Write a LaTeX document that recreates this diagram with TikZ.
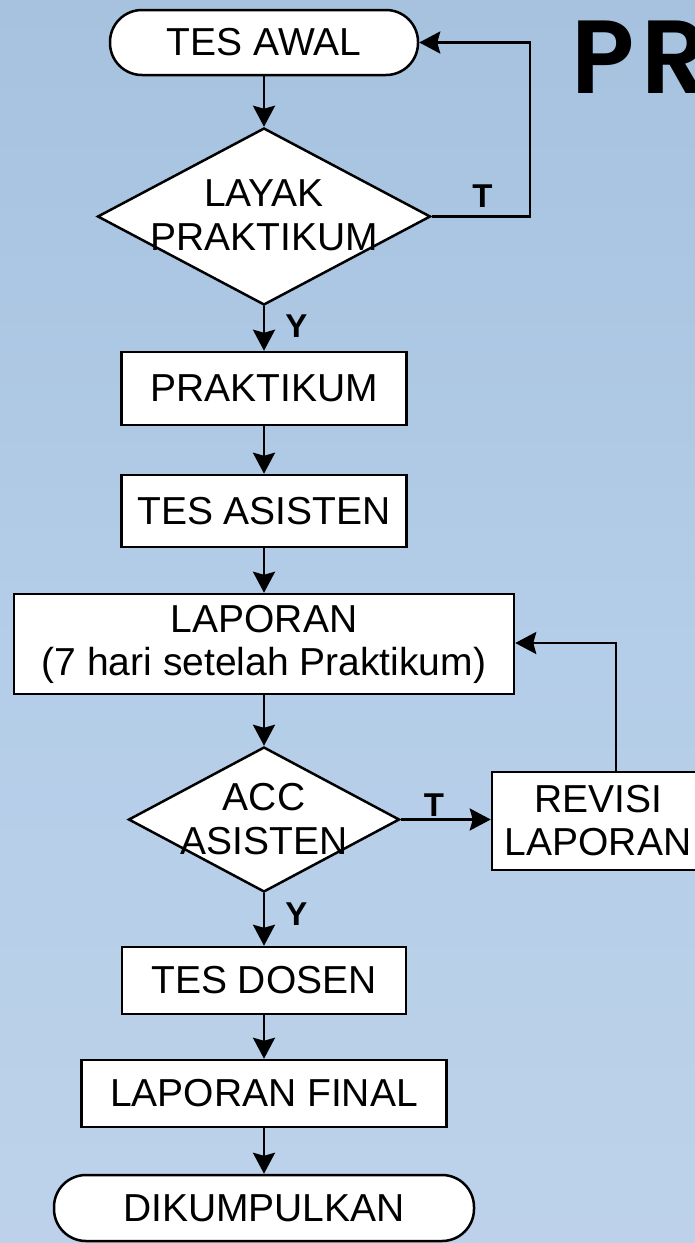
\documentclass[tikz,border=0pt]{standalone}
\usepackage{fontspec}
\setmainfont{Liberation Sans}
\newfontfamily\titlefont{Poppins SemiBold}
\usetikzlibrary{shapes.geometric,arrows.meta,calc}
\definecolor{bgtop}{HTML}{A6C2DF}
\definecolor{bgmid}{HTML}{B4CDE8}
\definecolor{bgbot}{HTML}{BDD2EA}
\tikzset{
  box/.style={draw=black, line width=2.5pt, fill=white, rectangle, inner sep=0pt,
    align=center, font=\fontsize{39}{43}\selectfont},
  term/.style={box, rounded corners=32pt},
  dia/.style={draw=black, line width=2.5pt, fill=white, diamond, inner sep=0pt},
  diatext/.style={align=center, inner sep=0pt, font=\fontsize{39}{44}\selectfont},
  lbl/.style={font=\fontsize{33}{35}\selectfont\bfseries, inner sep=0pt},
  arr/.style={line width=2.7pt, -{Stealth[length=21pt, width=22pt, inset=3pt]}},
}
\begin{document}
\begin{tikzpicture}[x=1pt, y=-1pt]
\useasboundingbox (0,0) rectangle (695,1243);
\shade[top color=bgtop, bottom color=bgmid] (0,0) rectangle (695,650);
\shade[top color=bgmid, bottom color=bgbot] (0,650) rectangle (695,1243);

\node[anchor=base west, inner sep=0pt, font=\titlefont\fontsize{104}{104}\selectfont] (title) at (571,93) {P\kern7pt R};

\node[term, minimum width=308pt, minimum height=65pt] (tesawal) at (264,42.5) {TES AWAL};
\node[dia, minimum width=333pt, minimum height=177pt] (layak) at (264,216.5) {};
\node[diatext] (layakt) at (264,215.5) {LAYAK\\PRAKTIKUM};
\node[box, minimum width=285pt, minimum height=73pt] (praktikum) at (264,388.5) {PRAKTIKUM};
\node[box, minimum width=285pt, minimum height=72pt] (tesasisten) at (264,511) {TES ASISTEN};
\node[box, minimum width=500pt, minimum height=100pt] (laporan) at (264,644) {LAPORAN\\(7 hari setelah Praktikum)};
\node[dia, minimum width=271pt, minimum height=145pt] (acc) at (264,819.5) {};
\node[diatext] (acct) at (264,819.5) {ACC\\ASISTEN};
\node[box, minimum width=212pt, minimum height=98pt] (revisi) at (598,821) {REVISI\\LAPORAN};
\node[box, minimum width=284pt, minimum height=67pt] (tesdosen) at (264,980.5) {TES DOSEN};
\node[box, minimum width=365pt, minimum height=67pt] (final) at (264,1093.5) {LAPORAN FINAL};
\node[term, minimum width=420pt, minimum height=66pt] (kumpul) at (264,1208) {DIKUMPULKAN};

\coordinate (tcorner) at (530,216.5);
\coordinate (rcorner) at (616,643);

\draw[arr] (tesawal.south) -- (layak.north);
\draw[arr] (layak.east) -- (tcorner) |- (tesawal.east);
\node[lbl] (t1) at (482.5,196) {T};
\draw[arr] (layak.south) -- (praktikum.north);
\node[lbl] (y1) at (296.5,326.5) {Y};
\draw[arr] (praktikum.south) -- (tesasisten.north);
\draw[arr] (tesasisten.south) -- (laporan.north);
\draw[arr] (laporan.south) -- (acc.north);
\draw[arr] (acc.east) -- (revisi.west |- acc.east);
\node[lbl] (t2) at (434,805) {T};
\draw[arr] (rcorner |- revisi.north) -- (rcorner) -- (laporan.east |- rcorner);
\draw[arr] (acc.south) -- (tesdosen.north);
\node[lbl] (y2) at (296.5,914) {Y};
\draw[arr] (tesdosen.south) -- (final.north);
\draw[arr] (final.south) -- (kumpul.north);
\end{tikzpicture}
\end{document}
